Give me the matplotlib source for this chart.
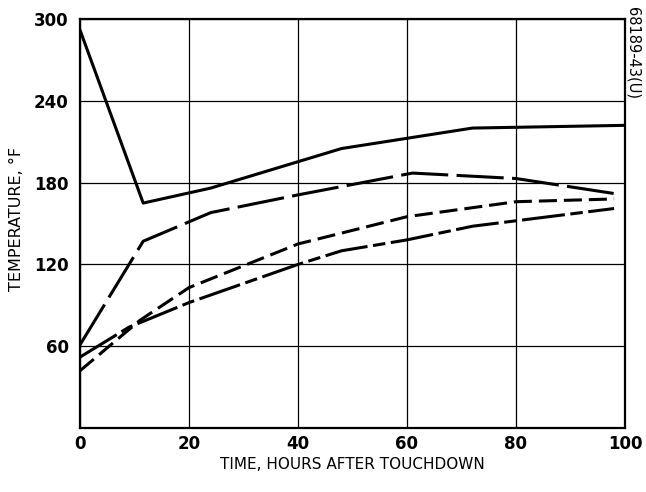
import matplotlib
matplotlib.use("Agg")
import matplotlib.pyplot as plt

plt.rcParams['lines.scale_dashes'] = False

# temperature curves (hours, deg F)
solid_t = [0, 11.6, 24, 48, 72, 100]
solid_temp = [292, 165, 176, 205, 220, 222]

longdash_t = [0, 11.6, 24, 40, 61, 80, 98]
longdash_temp = [61, 137, 158, 171, 187, 183, 172]

dash_t = [0, 11, 20, 40, 60, 80, 98]
dash_temp = [42, 79, 103, 135, 155, 166, 168]

dashdot_t = [0, 9, 20, 40, 48, 60, 72, 80, 98]
dashdot_temp = [52, 74, 92, 120, 130, 138, 148, 152, 161]

x_ticks = [0, 20, 40, 60, 80, 100]
y_ticks = [60, 120, 180, 240, 300]

fig = plt.figure(figsize=(6.46, 4.92), dpi=100)
ax = fig.add_axes([0.1238, 0.130, 0.8437, 0.8314])

ax.plot(solid_t, solid_temp, color='black', lw=2.2, solid_capstyle='butt')
ax.plot(longdash_t, longdash_temp, color='black', lw=2.2, dashes=(34, 6))
ax.plot(dash_t, dash_temp, color='black', lw=2.2, dashes=(13, 5))
ax.plot(dashdot_t, dashdot_temp, color='black', lw=2.2, dashes=(31, 4, 9, 4))

ax.set_xlim(0, 100)
ax.set_ylim(0, 300)
ax.set_xticks(x_ticks)
ax.set_yticks(y_ticks)
ax.tick_params(length=0, labelsize=12)
ax.tick_params(axis='x', pad=5)
ax.tick_params(axis='y', pad=8)
for lab in ax.get_xticklabels() + ax.get_yticklabels():
    lab.set_fontweight('bold')
ax.grid(True, color='black', lw=0.9)
for sp in ax.spines.values():
    sp.set_linewidth(1.6)

ax.set_xlabel("TIME, HOURS AFTER TOUCHDOWN", fontsize=11, labelpad=3)
ax.set_ylabel("TEMPERATURE, °F", fontsize=11.5)
ax.yaxis.set_label_coords(-0.103, 0.51)

fig.text(0.98, 0.985, "68189-43(U)", rotation=270, ha='center', va='top',
         fontsize=10.5)

fig.savefig("out.png", dpi=100)
